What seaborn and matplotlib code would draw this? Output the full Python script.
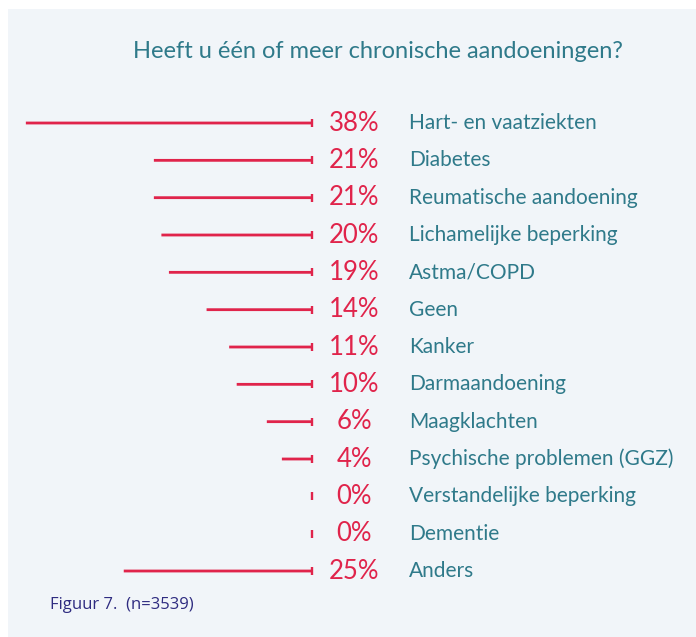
import matplotlib
matplotlib.use("Agg")
import matplotlib.pyplot as plt
import matplotlib.transforms as mtransforms
from matplotlib.patches import Rectangle
import seaborn as sns
import pandas as pd

# Data
categories = ["Hart- en vaatziekten", "Diabetes", "Reumatische aandoening",
              "Lichamelijke beperking", "Astma/COPD", "Geen", "Kanker",
              "Darmaandoening", "Maagklachten", "Psychische problemen (GGZ)",
              "Verstandelijke beperking", "Dementie", "Anders"]
percentages = [38, 21, 21, 20, 19, 14, 11, 10, 6, 4, 0, 0, 25]

df = pd.DataFrame({"categorie": categories, "pct": percentages})

red = "#E0244B"
teal = "#2F7A8A"
navy = "#2E2B80"
panel = "#F1F5F9"

sns.set_style("white")
plt.rcParams["font.family"] = ["Lato", "DejaVu Sans"]

fig = plt.figure(figsize=(6.96, 6.37), dpi=100)
fig.patch.set_facecolor("white")
fig.patches.append(Rectangle((8 / 696, 0), 1, 1 - 9 / 637, transform=fig.transFigure,
                             facecolor=panel, edgecolor="none", zorder=-1))

# axes: value 0 sits at x=312px, 7.53 px per percent
ax = fig.add_axes([0, 0.0743, 312 / 696, 0.7619])
ax.set_facecolor("none")
sns.barplot(data=df, x="pct", y="categorie", orient="h", color=red,
            width=0.075, saturation=1, linewidth=0, ax=ax)
for bar in ax.patches:
    bar.set_snap(False)
ax.scatter([0] * len(df), range(len(df)), marker="|", s=40, color=red,
           linewidths=1.7, zorder=3, clip_on=False)
ax.set_xlim(312 / 7.53, 0)
ax.set_ylim(len(df) - 0.5, -0.5)
ax.axis("off")

trans = mtransforms.blended_transform_factory(fig.transFigure, ax.transData)
for i, (cat, p) in enumerate(zip(categories, percentages)):
    ax.text(354 / 696, i, f"{p}%", transform=trans, ha="center", va="center",
            color=red, fontsize=18.5)
    ax.text(409 / 696, i, cat, transform=trans, ha="left", va="center",
            color=teal, fontsize=15)

fig.text(378 / 696, 1 - 51 / 637, "Heeft u één of meer chronische aandoeningen?",
         ha="center", va="center", color=teal, fontsize=17)
fig.text(50 / 696, 1 - 605 / 637, "Figuur 7.  (n=3539)", ha="left", va="center",
         color=navy, fontsize=12, family=["Open Sans", "DejaVu Sans"])

fig.savefig("out.png", dpi=100)
